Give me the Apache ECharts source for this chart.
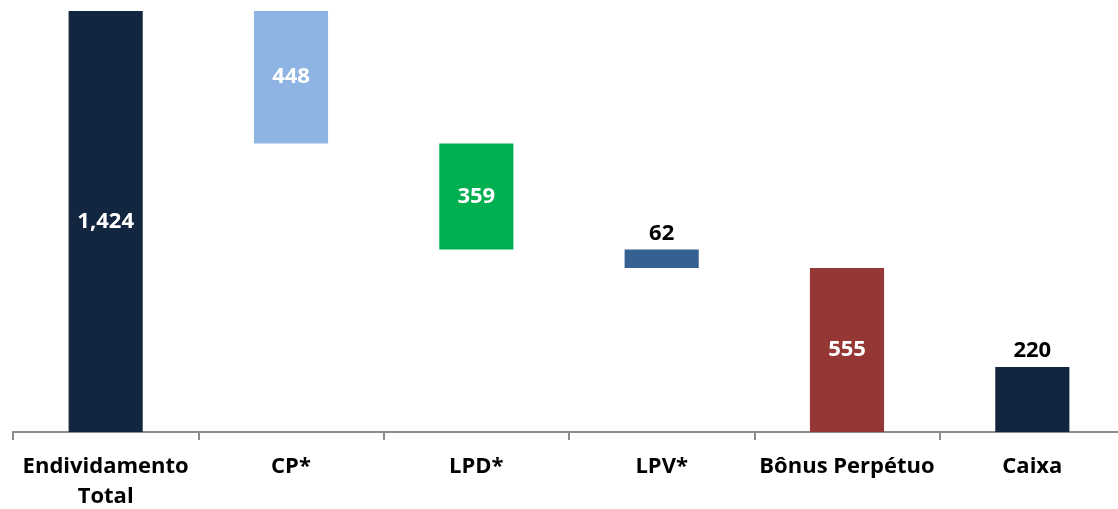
<!DOCTYPE html>
<html>
<head>
<meta charset="utf-8">
<script src="https://cdn.jsdelivr.net/npm/echarts@6/dist/echarts.min.js"></script>
<style>
  html, body { margin: 0; padding: 0; background: #fff; }
  #main { width: 1118px; height: 509px; }
</style>
</head>
<body>
<div id="main"></div>
<script>
var categories = ['Endividamento\nTotal', 'CP*', 'LPD*', 'LPV*', 'Bônus Perpétuo', 'Caixa'];
var values = [1424, 448, 359, 62, 555, 220];
var colors = ['#13263f', '#8eb4e3', '#00b050', '#366092', '#953735', '#13263f'];
var valueLabels = ['1,424', '448', '359', '62', '555', '220'];
var labelOutside = [false, false, false, true, false, true];

// invisible base for the waterfall steps (total and cash start at zero)
var bases = [0];
var remaining = values[0];
for (var i = 1; i < values.length - 1; i++) {
  remaining -= values[i];
  bases.push(remaining);
}
bases.push(0);

var barData = values.map(function (v, i) {
  return {
    value: v,
    itemStyle: { color: colors[i] },
    label: {
      position: labelOutside[i] ? 'top' : 'inside',
      color: labelOutside[i] ? '#000' : '#fff',
      distance: 5
    }
  };
});

var chart = echarts.init(document.getElementById('main'));
var option = {
  animation: false,
  grid: { left: 13, right: -7, top: 11, bottom: 77, outerBoundsMode: 'none', containLabel: false },
  xAxis: {
    type: 'category',
    data: categories,
    axisLine: { lineStyle: { color: '#8c8c8c', width: 2 } },
    axisTick: { show: true, length: 8, lineStyle: { color: '#8c8c8c', width: 2 } },
    axisLabel: {
      interval: 0,
      margin: 20,
      fontFamily: 'Open Sans',
      fontWeight: 'bold',
      fontSize: 22,
      lineHeight: 30,
      color: '#000'
    }
  },
  yAxis: {
    type: 'value',
    min: 0,
    max: 1424,
    show: false,
    splitLine: { show: false }
  },
  series: [
    {
      type: 'bar',
      stack: 'w',
      silent: true,
      itemStyle: { color: 'transparent' },
      data: bases,
      barWidth: '40%'
    },
    {
      type: 'bar',
      stack: 'w',
      barWidth: '40%',
      data: barData,
      label: {
        show: true,
        fontFamily: 'Open Sans',
        fontWeight: 'bold',
        fontSize: 22,
        formatter: function (p) { return valueLabels[p.dataIndex]; }
      }
    }
  ]
};
option && chart.setOption(option);
</script>
</body>
</html>
